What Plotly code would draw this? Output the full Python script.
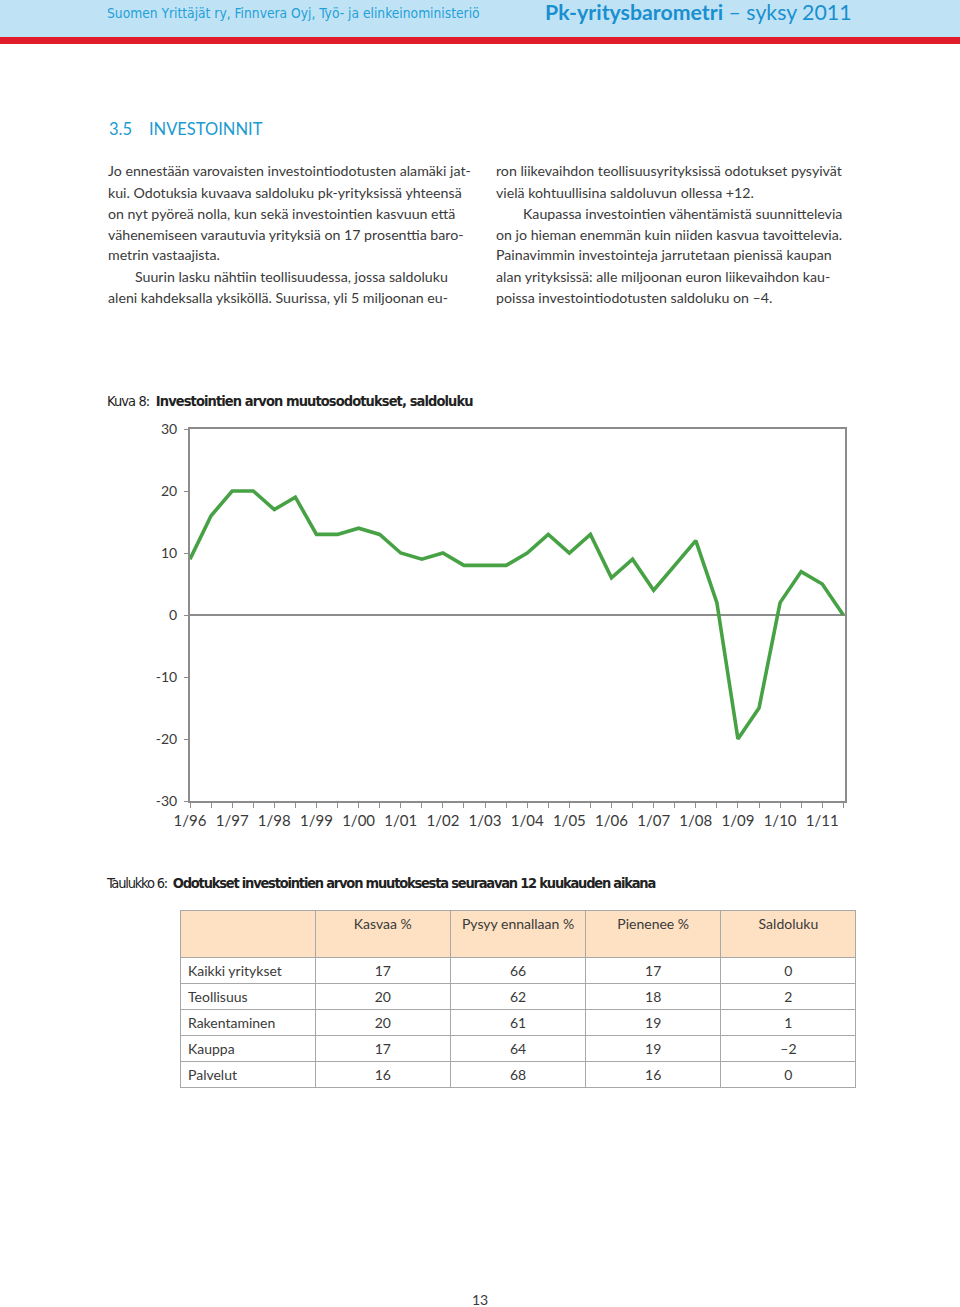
import plotly.graph_objects as go

W, H = 960, 1307

# ---------------- data ----------------
years = ["96", "97", "98", "99", "00", "01", "02", "03", "04", "05", "06", "07", "08", "09", "10", "11"]
periods = [f"{h}/{y}" for y in years for h in (1, 2)]
saldo = [9, 16, 20, 20, 17, 19, 13, 13, 14, 13, 10, 9,
         10, 8, 8, 8, 10, 13, 10, 13, 6, 9, 4, 8,
         12, 2, -20, -15, 2, 7, 5, 0]
tick_text = [p if p.startswith("1/") else "" for p in periods]
y_ticks = [-30, -20, -10, 0, 10, 20, 30]

table_header = ["", "Kasvaa %", "Pysyy ennallaan %", "Pienenee %", "Saldoluku"]
table_rows = ["Kaikki yritykset", "Teollisuus", "Rakentaminen", "Kauppa", "Palvelut"]
kasvaa = [17, 20, 20, 17, 16]
pysyy = [66, 62, 61, 64, 68]
pienenee = [17, 18, 19, 19, 16]
saldoluku = ["0", "2", "1", "–2", "0"]

col1_lines = [
    "Jo ennestään varovaisten investointiodotusten alamäki jat-",
    "kui. Odotuksia kuvaava saldoluku pk-yrityksissä yhteensä",
    "on nyt pyöreä nolla, kun sekä investointien kasvuun että",
    "vähenemiseen varautuvia yrityksiä on 17 prosenttia baro-",
    "metrin vastaajista.",
    "Suurin lasku nähtiin teollisuudessa, jossa saldoluku",
    "aleni kahdeksalla yksiköllä. Suurissa, yli 5 miljoonan eu-",
]
col1_indent = [False, False, False, False, False, True, False]
col2_lines = [
    "ron liikevaihdon teollisuusyrityksissä odotukset pysyivät",
    "vielä kohtuullisina saldoluvun ollessa +12.",
    "Kaupassa investointien vähentämistä suunnittelevia",
    "on jo hieman enemmän kuin niiden kasvua tavoittelevia.",
    "Painavimmin investointeja jarrutetaan pienissä kaupan",
    "alan yrityksissä: alle miljoonan euron liikevaihdon kau-",
    "poissa investointiodotusten saldoluku on –4.",
]
col2_indent = [False, False, True, False, False, False, False]

# ---------------- helpers ----------------
def px(x):
    return x / W

def py(y):
    return 1 - y / H

TEXT = "#3a3a3a"
BODY_FONT = "Lato, Open Sans, sans-serif"
NARROW = "Liberation Sans Narrow, DejaVu Sans Condensed, Roboto, sans-serif"
BLUE = "#24a0d8"

fig = go.Figure()

# ---------------- line chart ----------------
fig.add_trace(go.Scatter(
    x=list(range(len(periods))), y=saldo,
    mode="lines", line=dict(color="#46a244", width=3.6),
    hoverinfo="skip", showlegend=False,
))

fig.update_layout(
    width=W, height=H,
    margin=dict(l=0, r=0, t=0, b=0, pad=0, autoexpand=False),
    paper_bgcolor="white", plot_bgcolor="white",
    showlegend=False,
    xaxis=dict(
        domain=[px(190), px(845)],
        range=[0, 31.08],
        tickmode="array",
        tickvals=list(range(len(periods))),
        ticktext=tick_text,
        ticks="outside", ticklen=5, tickwidth=1.2, tickcolor="#8c8c8c",
        showline=True, linecolor="#8c8c8c", linewidth=2, mirror=True,
        showgrid=False, zeroline=False,
        tickfont=dict(family=BODY_FONT, size=15, color=TEXT),
        tickangle=0, automargin=False,
    ),
    yaxis=dict(
        domain=[py(801), py(429)],
        range=[-30, 30],
        tickmode="array",
        tickvals=y_ticks,
        ticktext=[str(v) for v in y_ticks],
        ticks="outside", ticklen=4, tickwidth=1.2, tickcolor="#8c8c8c",
        showline=True, linecolor="#8c8c8c", linewidth=2, mirror=True,
        showgrid=False,
        zeroline=True, zerolinecolor="#8c8c8c", zerolinewidth=1.6,
        tickfont=dict(family=BODY_FONT, size=14, color=TEXT),
        ticklabelstandoff=4, automargin=False,
    ),
)

# ---------------- table ----------------
fig.add_trace(go.Table(
    domain=dict(x=[px(180), px(856)], y=[py(1092), py(910)]),
    columnwidth=[1, 1, 1, 1, 1],
    header=dict(
        values=table_header,
        fill_color="#fde1c2",
        line=dict(color="#a8a8a8", width=1),
        align="center",
        height=47,
        font=dict(family=BODY_FONT, size=14, color=TEXT),
    ),
    cells=dict(
        values=[table_rows, kasvaa, pysyy, pienenee, saldoluku],
        fill_color="white",
        line=dict(color="#a8a8a8", width=1),
        align=["left", "center", "center", "center", "center"],
        height=26,
        font=dict(family=BODY_FONT, size=14, color=TEXT),
    ),
))

# ---------------- page decorations ----------------
shapes = [
    dict(type="rect", xref="paper", yref="paper", x0=0, x1=1, y0=py(37), y1=1,
         fillcolor="#bfe3f5", line=dict(width=0), layer="below"),
    dict(type="rect", xref="paper", yref="paper", x0=0, x1=1, y0=py(44), y1=py(37),
         fillcolor="#e01b2a", line=dict(width=0), layer="below"),
]
fig.update_layout(shapes=shapes)

ann = []

def add_text(x, y, text, size, color=TEXT, family=BODY_FONT, xanchor="left"):
    ann.append(dict(x=px(x), y=py(y), xref="paper", yref="paper", text=text,
                    showarrow=False, xanchor=xanchor, yanchor="middle",
                    font=dict(family=family, size=size, color=color)))

add_text(105, 13, "Suomen Yrittäjät ry, Finnvera Oyj, Työ- ja elinkeinoministeriö", 13.7, BLUE, NARROW)
add_text(543, 12, "<b>Pk-yritysbarometri</b> – syksy 2011", 21.3, "#1a8fd0", BODY_FONT)

add_text(107, 129, "3.5&nbsp;&nbsp;&nbsp;&nbsp;INVESTOINNIT", 16.5, "#1a9bd0", BODY_FONT)

line_y0, line_dy = 171, 21
for i, (t, ind) in enumerate(zip(col1_lines, col1_indent)):
    add_text(133 if ind else 106, line_y0 + i * line_dy, t, 14.2)
for i, (t, ind) in enumerate(zip(col2_lines, col2_indent)):
    add_text(521 if ind else 494, line_y0 + i * line_dy, t, 14.2)

TIGHT = "letter-spacing:-0.9px"
add_text(105, 401,
         f"<span style='{TIGHT}'>Kuva 8:  <b>Investointien arvon muutosodotukset, saldoluku</b></span>",
         14.5, "#222222", NARROW)
TIGHT2 = "letter-spacing:-1.2px"
add_text(104, 883,
         f"<span style='{TIGHT2}'>Taulukko 6:  <b>Odotukset investointien arvon muutoksesta seuraavan 12 kuukauden aikana</b></span>",
         14.5, "#222222", NARROW)

add_text(480, 1299, "13", 14, TEXT, BODY_FONT, xanchor="center")

fig.update_layout(annotations=ann)

fig.write_html(
    "out.html",
    config={"displayModeBar": False},
    post_script="document.body.style.margin='0';document.body.style.overflow='hidden';",
)
